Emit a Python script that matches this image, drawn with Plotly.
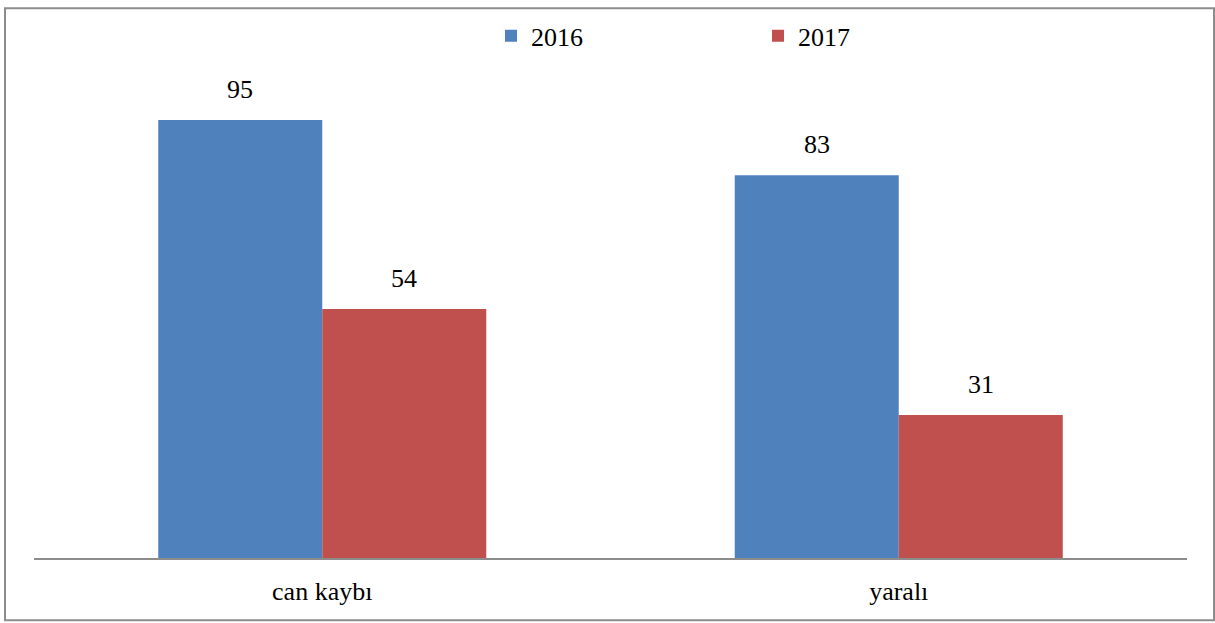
import plotly.graph_objects as go

categories = ["can kaybı", "yaralı"]
series_names = ["2016", "2017"]
values_2016 = [95, 83]
values_2017 = [54, 31]
colors = ["#4F81BD", "#C0504D"]

FONT = "Liberation Serif"

W, H = 1215, 623
L, R, T, B = 34, 28, 91, 65
pw, ph = W - L - R, H - T - B
BARGAP = 0.431

def px_x(px):
    return (px - L) / pw

def px_y(py):
    return (H - B - py) / ph

fig = go.Figure()
series = [values_2016, values_2017]
n_series = len(series)
slot_px = pw / len(categories)
bar_px = slot_px * (1 - BARGAP) / n_series
annotations = []
for i, (name, vals, col) in enumerate(zip(series_names, series, colors)):
    fig.add_trace(go.Bar(
        x=categories, y=vals, name=name,
        marker=dict(color=col, line=dict(width=0)),
        hoverinfo="skip",
    ))
    offset = (i - (n_series - 1) / 2) * bar_px
    for c, v in zip(categories, vals):
        annotations.append(dict(
            x=c, y=v, xref="x", yref="y", text=str(v), showarrow=False,
            xshift=offset, yshift=14, yanchor="bottom",
            font=dict(family=FONT, size=26, color="#000000"),
        ))

fig.update_layout(
    width=W, height=H,
    margin=dict(l=L, r=R, t=T, b=B),
    paper_bgcolor="white", plot_bgcolor="white",
    font=dict(family=FONT, size=26, color="#000000"),
    barmode="group", bargap=BARGAP, bargroupgap=0,
    showlegend=True,
    legend=dict(
        orientation="h", x=px_x(491), xanchor="left",
        y=px_y(29), yanchor="middle",
        entrywidth=222, entrywidthmode="pixels",
        font=dict(family=FONT, size=26, color="#000000"),
        bgcolor="rgba(0,0,0,0)", itemclick=False,
    ),
    xaxis=dict(
        showline=True, linecolor="#8c8c8c", linewidth=2,
        showgrid=False, zeroline=False, ticks="", ticklabelstandoff=9,
        tickfont=dict(family=FONT, size=26, color="#000000"),
    ),
    yaxis=dict(range=[0, 100], visible=False, showgrid=False, zeroline=False),
    annotations=annotations,
    shapes=[dict(
        type="rect", xref="paper", yref="paper",
        x0=px_x(5), x1=px_x(1214), y0=px_y(621), y1=px_y(1),
        line=dict(color="#8c8c8c", width=2), fillcolor="rgba(0,0,0,0)",
    )],
)

fig.write_html(
    "out.html",
    config={"displayModeBar": False},
    post_script="document.body.style.margin='0';document.body.style.overflow='hidden';",
)
